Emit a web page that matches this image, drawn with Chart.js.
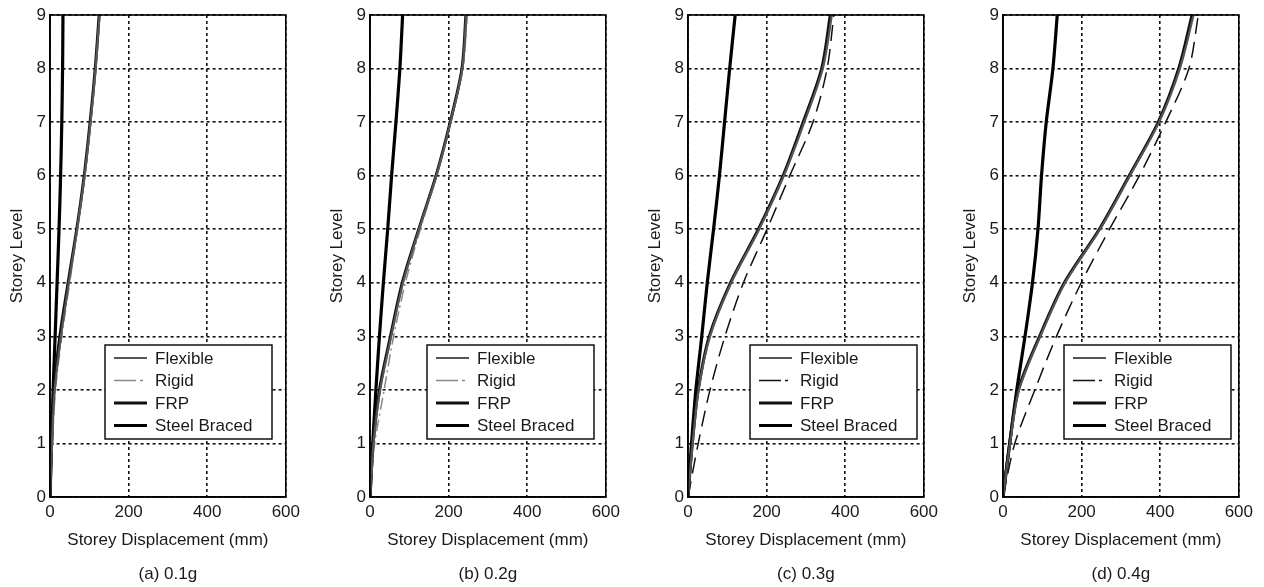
<!DOCTYPE html>
<html>
<head>
<meta charset="utf-8">
<script src="https://cdn.jsdelivr.net/npm/chart.js@4.4.1/dist/chart.umd.min.js"></script>
<style>
body{margin:0;background:#fff;width:1264px;height:587px;overflow:hidden;position:relative}
canvas{position:absolute;top:0}
</style>
</head>
<body>
<canvas id="pa" width="305" height="587" style="left:0px"></canvas>
<canvas id="pb" width="305" height="587" style="left:320px"></canvas>
<canvas id="pc" width="305" height="587" style="left:638px"></canvas>
<canvas id="pd" width="305" height="587" style="left:953px"></canvas>
<script>
// storey levels and axis ticks
const storeys = [0, 1, 2, 3, 4, 5, 6, 7, 8, 9];
const xTicks = [0, 200, 400, 600];
const yTicks = [0, 1, 2, 3, 4, 5, 6, 7, 8, 9];
const seriesNames = ['Flexible', 'Rigid', 'FRP', 'Steel Braced'];
const captions = ['(a) 0.1g', '(b) 0.2g', '(c) 0.3g', '(d) 0.4g'];

// storey displacement (mm), one value per storey level
const flexible01 = [0, 5, 12, 28, 48, 69, 88, 103, 116, 126];
const rigid01    = [0, 6, 14, 30, 50, 70, 89, 104, 117, 127];
const frp01      = [0, 4, 10, 25, 46, 68, 87, 102, 115, 125];
const steel01    = [0, 4, 8, 13, 18, 23, 27, 30, 32, 33];

const flexible02 = [0, 9, 26, 54, 84, 125, 169, 205, 235, 245];
const rigid02    = [0, 12, 36, 60, 90, 128, 170, 205, 236, 248];
const frp02      = [0, 8, 24, 52, 82, 124, 168, 204, 234, 244];
const steel02    = [0, 7, 15, 24, 34, 45, 55, 66, 76, 83];

const flexible03 = [0, 12, 27, 56, 110, 181, 244, 296, 343, 366];
const rigid03    = [0, 26, 56, 94, 141, 201, 259, 318, 354, 371];
const frp03      = [0, 11, 26, 54, 108, 179, 242, 293, 340, 362];
const steel03    = [0, 9, 20, 35, 49, 65, 80, 93, 106, 120];

const flexible04 = [0, 18, 41, 95, 158, 247, 323, 397, 450, 485];
const rigid04    = [0, 30, 81, 136, 199, 271, 347, 414, 473, 497];
const frp04      = [0, 17, 39, 93, 156, 245, 321, 395, 447, 481];
const steel04    = [0, 17, 35, 56, 75, 89, 98, 110, 127, 138];

const FONT = 'Liberation Sans, Arial, sans-serif';
const TXT = '#1a1a1a';

function pts(values) {
    return values.map((v, i) => ({x: v, y: storeys[i]}));
}

// frame, legend box and caption
const panelDeco = {
    id: 'panelDeco',
    afterDraw(chart, args, opts) {
        const ctx = chart.ctx;
        const a = chart.chartArea;
        ctx.save();
        ctx.strokeStyle = '#000';
        ctx.lineWidth = 1.6;
        ctx.setLineDash([]);
        ctx.strokeRect(a.left, a.top, a.right - a.left, a.bottom - a.top);

        // legend
        const lx = a.left + opts.legLeft, ly = 345, lw = 167, lh = 94;
        ctx.fillStyle = '#fff';
        ctx.fillRect(lx, ly, lw, lh);
        ctx.lineWidth = 1.4;
        ctx.strokeRect(lx, ly, lw, lh);
        ctx.font = '17px ' + FONT;
        ctx.textBaseline = 'middle';
        chart.data.datasets.forEach((ds, i) => {
            const y = ly + 13 + i * 22.5;
            ctx.beginPath();
            ctx.strokeStyle = ds.borderColor;
            ctx.lineWidth = ds.borderWidth;
            ctx.setLineDash(ds.borderDash.length ? [22, 4, 3, 4] : []);
            ctx.moveTo(lx + 9, y);
            ctx.lineTo(lx + 42, y);
            ctx.stroke();
            ctx.setLineDash([]);
            ctx.fillStyle = TXT;
            ctx.textAlign = 'left';
            ctx.fillText(ds.label, lx + 50, y + 1);
        });

        // caption
        ctx.textAlign = 'center';
        ctx.fillStyle = TXT;
        ctx.fillText(opts.caption, (a.left + a.right) / 2, 574);
        ctx.restore();
    }
};

function drawPanel(id, flex, rigid, frp, steel, caption, legLeft, rigidColor, rigidDash) {
    const sets = [
        {label: seriesNames[0], data: pts(flex), borderColor: '#555', borderWidth: 2.2, borderDash: []},
        {label: seriesNames[1], data: pts(rigid), borderColor: rigidColor, borderWidth: 1.5, borderDash: rigidDash},
        {label: seriesNames[2], data: pts(frp), borderColor: '#111', borderWidth: 3, borderDash: []},
        {label: seriesNames[3], data: pts(steel), borderColor: '#000', borderWidth: 3.2, borderDash: []}
    ];
    sets.forEach(s => {
        s.showLine = true;
        s.pointRadius = 0;
        s.fill = false;
        s.tension = 0.3;
    });
    new Chart(document.getElementById(id), {
        type: 'scatter',
        data: {datasets: sets},
        options: {
            responsive: false,
            animation: false,
            events: [],
            layout: {padding: {top: 15, right: 18, left: 0, bottom: 0}},
            plugins: {
                legend: {display: false},
                tooltip: {enabled: false},
                panelDeco: {caption: caption, legLeft: legLeft}
            },
            scales: {
                x: {
                    type: 'linear', min: 0, max: 600,
                    afterBuildTicks: s => { s.ticks = xTicks.map(v => ({value: v})); },
                    afterFit: s => { s.height = 90; },
                    grid: {color: '#111', lineWidth: 1.6, drawTicks: false},
                    border: {display: true, color: '#000', width: 1.6, dash: [3, 3]},
                    ticks: {padding: 5, color: TXT, font: {family: FONT, size: 17}},
                    title: {display: true, text: 'Storey Displacement (mm)', color: TXT,
                        font: {family: FONT, size: 17}, padding: {top: 4, bottom: 36}}
                },
                y: {
                    type: 'linear', min: 0, max: 9,
                    afterBuildTicks: s => { s.ticks = yTicks.map(v => ({value: v})); },
                    afterFit: s => { s.width = 50; },
                    grid: {color: '#111', lineWidth: 1.6, drawTicks: false},
                    border: {display: true, color: '#000', width: 1.6, dash: [3, 3]},
                    ticks: {padding: 4, color: TXT, font: {family: FONT, size: 17}},
                    title: {display: true, text: 'Storey Level', color: TXT,
                        font: {family: FONT, size: 17}, padding: {top: 7, bottom: 0}}
                }
            }
        },
        plugins: [panelDeco]
    });
}

drawPanel('pa', flexible01, rigid01, frp01, steel01, captions[0], 55, '#888', [12, 4, 2, 4]);
drawPanel('pb', flexible02, rigid02, frp02, steel02, captions[1], 57, '#888', [12, 4, 2, 4]);
drawPanel('pc', flexible03, rigid03, frp03, steel03, captions[2], 62, '#111', [16, 8]);
drawPanel('pd', flexible04, rigid04, frp04, steel04, captions[3], 61, '#111', [16, 8]);
</script>
</body>
</html>
